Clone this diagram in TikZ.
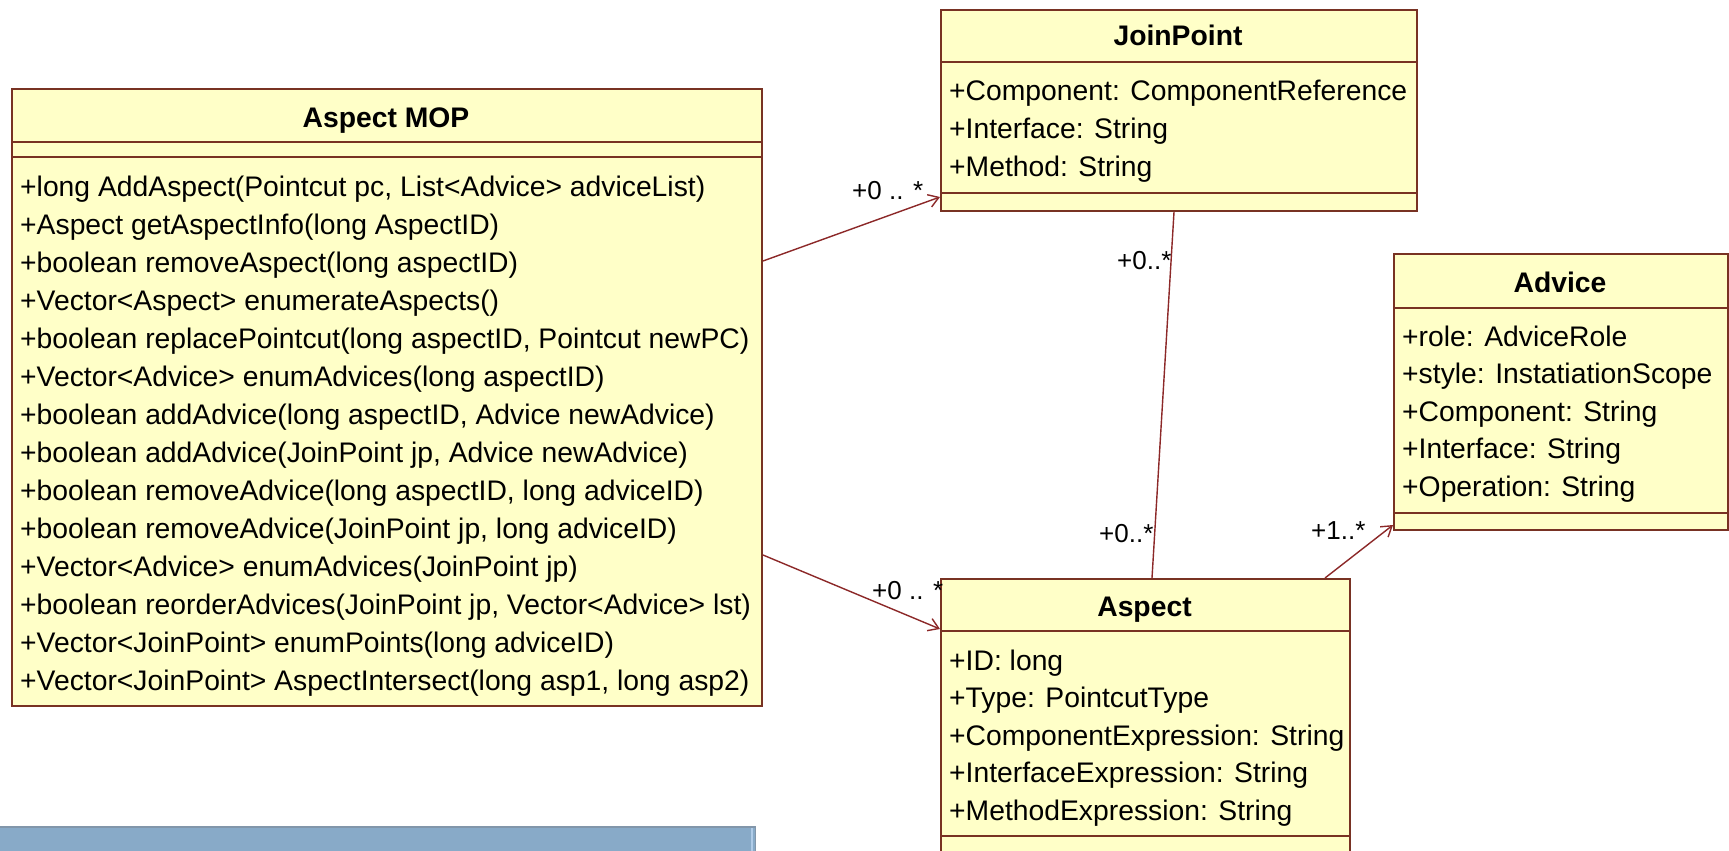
\documentclass[tikz,border=0pt]{standalone}
\usepackage{fontspec}
\setmainfont{Liberation Sans}
\usetikzlibrary{arrows.meta,calc}
\definecolor{boxfill}{RGB}{255,255,200}
\definecolor{boxline}{RGB}{120,50,35}
\definecolor{conn}{RGB}{140,40,40}
\definecolor{barblue}{RGB}{136,170,200}
\definecolor{bartop}{RGB}{130,150,170}
\definecolor{barlight}{RGB}{176,204,232}
\begin{document}
\begin{tikzpicture}[x=1pt,y=-1pt,
  umlbox/.style={draw=boxline, fill=boxfill, line width=2pt, inner sep=0pt, anchor=north west},
  sepline/.style={draw=boxline, line width=2pt},
  member/.style={anchor=base west, inner sep=0pt, font=\fontsize{28.3}{34}\selectfont},
  boxtitle/.style={anchor=base, inner sep=0pt, font=\bfseries\fontsize{28.3}{34}\selectfont},
  mult/.style={anchor=base west, inner sep=0pt, font=\fontsize{26}{30}\selectfont},
  assoc/.style={draw=conn, line width=1.4pt},
  nav/.style={assoc, -{Straight Barb[length=10pt,width=13pt,line width=1.4pt]}}
]
\clip (0,0) rectangle (1729,851);
\fill[white] (0,0) rectangle (1729,851);

% blue bar
\fill[barblue] (0,826) rectangle (756,860);
\draw[bartop, line width=2pt] (0,827) -- (756,827);
\draw[barlight, line width=2pt] (752,828) -- (752,860);
\draw[bartop, line width=1.5pt] (755.5,826) -- (755.5,860);

% Aspect MOP
\node[umlbox, minimum width=750pt, minimum height=617pt] (mop) at (11,88) {};
\draw[sepline] (11,142) -- (761,142);
\draw[sepline] (11,157) -- (761,157);
\node[boxtitle] (mopT) at (386,127) {Aspect MOP};
\foreach \t [count=\i from 0] in {
  {+long AddAspect(Pointcut pc, List<Advice> adviceList)},
  {+Aspect getAspectInfo(long AspectID)},
  {+boolean removeAspect(long aspectID)},
  {+Vector<Aspect> enumerateAspects()},
  {+boolean replacePointcut(long aspectID, Pointcut newPC)},
  {+Vector<Advice> enumAdvices(long aspectID)},
  {+boolean addAdvice(long aspectID, Advice newAdvice)},
  {+boolean addAdvice(JoinPoint jp, Advice newAdvice)},
  {+boolean removeAdvice(long aspectID, long adviceID)},
  {+boolean removeAdvice(JoinPoint jp, long adviceID)},
  {+Vector<Advice> enumAdvices(JoinPoint jp)},
  {+boolean reorderAdvices(JoinPoint jp, Vector<Advice> lst)},
  {+Vector<JoinPoint> enumPoints(long adviceID)},
  {+Vector<JoinPoint> AspectIntersect(long asp1, long asp2)}}
  \node[member] (mop\i) at (20,{196+38*\i}) {\t};

% JoinPoint
\node[umlbox, minimum width=476pt, minimum height=201pt] (jp) at (940,9) {};
\draw[sepline] (940,62) -- (1416,62);
\draw[sepline] (940,193) -- (1416,193);
\node[boxtitle] (jpT) at (1178,46) {JoinPoint};
\node[member] (jp0) at (949,100) {+Component: ComponentReference};
\node[member] (jp1) at (949,138) {+Interface: String};
\node[member] (jp2) at (949,176) {+Method: String};

% Advice
\node[umlbox, minimum width=334pt, minimum height=276pt] (adv) at (1393,253) {};
\draw[sepline] (1393,308) -- (1727,308);
\draw[sepline] (1393,513) -- (1727,513);
\node[boxtitle] (advT) at (1560,292) {Advice};
\node[member] (adv0) at (1402,346) {+role: AdviceRole};
\node[member] (adv1) at (1402,383.5) {+style: InstatiationScope};
\node[member] (adv2) at (1402,421) {+Component: String};
\node[member] (adv3) at (1402,458.5) {+Interface: String};
\node[member] (adv4) at (1402,496) {+Operation: String};

% Aspect
\node[umlbox, minimum width=409pt, minimum height=300pt] (asp) at (940,578) {};
\draw[sepline] (940,631) -- (1349,631);
\draw[sepline] (940,836) -- (1349,836);
\node[boxtitle] (aspT) at (1144.5,616) {Aspect};
\node[member] (asp0) at (949,670) {+ID: long};
\node[member] (asp1) at (949,707.5) {+Type: PointcutType};
\node[member] (asp2) at (949,745) {+ComponentExpression: String};
\node[member] (asp3) at (949,782.5) {+InterfaceExpression: String};
\node[member] (asp4) at (949,820) {+MethodExpression: String};

% connectors
\draw[nav] ($(mop.north east)+(0,173)$) -- ($(jp.north west)+(0,188)$);
\draw[nav] ($(mop.north east)+(0,467)$) -- ($(asp.north west)+(0,51)$);
\draw[assoc] ($(jp.south)+(-5,0)$) -- ($(asp.north)+(6.5,0)$);
\draw[nav] ($(asp.north east)+(-26,0)$) -- ($(adv.south west)+(0,-6)$);

% multiplicities
\node[mult] (m1) at (852,199) {+0 .. *};
\node[mult] (m2) at (1117,269) {+0..*};
\node[mult] (m3) at (1099,542) {+0..*};
\node[mult] (m4) at (872,599) {+0 .. *};
\node[mult] (m5) at (1311,539) {+1..*};
\end{tikzpicture}
\end{document}
